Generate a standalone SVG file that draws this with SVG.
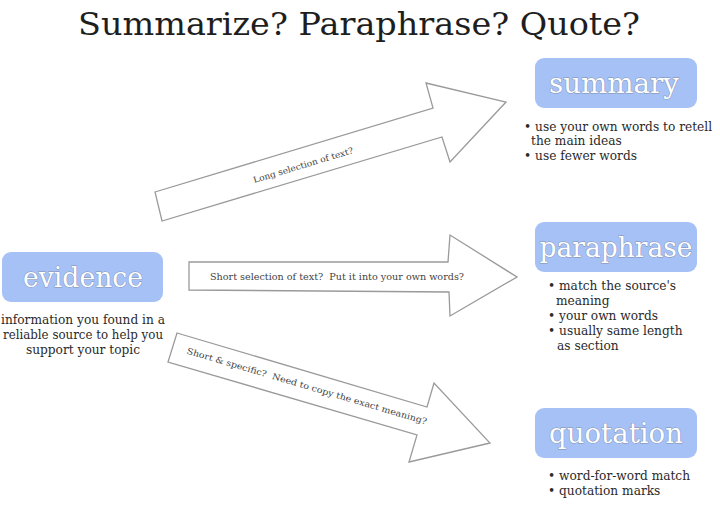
<svg xmlns="http://www.w3.org/2000/svg" width="720" height="506" viewBox="0 0 720 506">
<style>
.bg{fill:#ffffff}
.title{font-family:"DejaVu Serif","Liberation Serif",serif;font-size:31px;fill:#1e1e1e}
.box{fill:#a6c1f6}
.label{font-family:"DejaVu Serif","Liberation Serif",serif;font-size:28px;fill:#ffffff;stroke:#7f8fae;stroke-width:0.9px;paint-order:stroke;text-anchor:middle}
.body{font-family:"DejaVu Serif","Liberation Serif",serif;font-size:12.2px;fill:#2a2a2a}
.arrow{fill:#ffffff;stroke:#9a9a9a;stroke-width:1.3}
.alabel{font-family:"DejaVu Serif","Liberation Serif",serif;font-size:8.5px;fill:#444;text-anchor:middle;white-space:pre}
</style>
<rect class="bg" x="0" y="0" width="720" height="506"/>
<text class="title" x="359" y="35" text-anchor="middle" textLength="562" lengthAdjust="spacingAndGlyphs">Summarize? Paraphrase? Quote?</text>

<g id="connectors">
  <g id="arrow-long">
    <polygon class="arrow" points="155,192 433,108 426,83 506,102 450,162 442,137 162,221"/>
    <text class="alabel" transform="translate(304,168) rotate(-16.8)" textLength="104" lengthAdjust="spacingAndGlyphs">Long selection of text?</text>
  </g>
  <g id="arrow-short">
    <polygon class="arrow" points="189,262 448,262 450,235 517,277 450,316 449,292 189,290"/>
    <text class="alabel" x="337" y="280" textLength="254" lengthAdjust="spacingAndGlyphs" xml:space="preserve">Short selection of text?  Put it into your own words?</text>
  </g>
  <g id="arrow-specific">
    <polygon class="arrow" points="177,333 427,407 434,383 490,443 409,462 417,435 168,362"/>
    <text class="alabel" transform="translate(306,389) rotate(16.5)" textLength="250" lengthAdjust="spacingAndGlyphs" xml:space="preserve">Short &amp; specific?  Need to copy the exact meaning?</text>
  </g>
</g>

<g id="evidence">
  <rect class="box" x="2" y="252" width="161" height="50" rx="9"/>
  <text class="label" x="83" y="287" textLength="120" lengthAdjust="spacingAndGlyphs">evidence</text>
  <text class="body" text-anchor="middle" x="83" y="324" textLength="164" lengthAdjust="spacingAndGlyphs">information you found in a</text>
  <text class="body" text-anchor="middle" x="83" y="339" textLength="160" lengthAdjust="spacingAndGlyphs">reliable source to help you</text>
  <text class="body" text-anchor="middle" x="83" y="354">support your topic</text>
</g>

<g id="summary">
  <rect class="box" x="535" y="58" width="162" height="50" rx="9"/>
  <text class="label" x="614" y="93" textLength="130" lengthAdjust="spacingAndGlyphs">summary</text>
  <text class="body" x="524" y="131">• use your own words to retell</text>
  <text class="body" x="531" y="145">the main ideas</text>
  <text class="body" x="524" y="160">• use fewer words</text>
</g>

<g id="paraphrase">
  <rect class="box" x="535" y="222" width="162" height="50" rx="9"/>
  <text class="label" x="616" y="257" textLength="153" lengthAdjust="spacingAndGlyphs">paraphrase</text>
  <text class="body" x="548" y="290">• match the source's</text>
  <text class="body" x="556" y="305">meaning</text>
  <text class="body" x="548" y="320">• your own words</text>
  <text class="body" x="548" y="335">• usually same length</text>
  <text class="body" x="557" y="350">as section</text>
</g>

<g id="quotation">
  <rect class="box" x="535" y="408" width="162" height="50" rx="9"/>
  <text class="label" x="616" y="443" textLength="134" lengthAdjust="spacingAndGlyphs">quotation</text>
  <text class="body" x="548" y="480">• word-for-word match</text>
  <text class="body" x="548" y="495">• quotation marks</text>
</g>
</svg>
